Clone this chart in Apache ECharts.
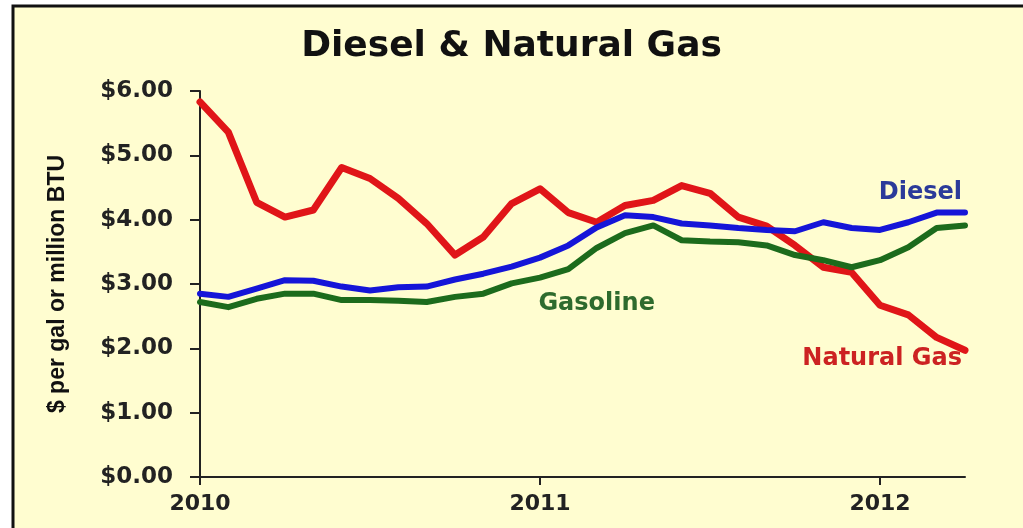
<!DOCTYPE html>
<html>
<head>
<meta charset="utf-8">
<script src="https://cdn.jsdelivr.net/npm/echarts@6/dist/echarts.min.js"></script>
<style>
  html, body { margin: 0; padding: 0; background: #fff; }
  #chart { width: 1023px; height: 528px; }
</style>
</head>
<body>
<div id="chart"></div>
<script>
// monthly prices, Jan 2010 .. Apr 2012
const months = [
  '2010-01', '2010-02', '2010-03', '2010-04', '2010-05', '2010-06', '2010-07', '2010-08', '2010-09', '2010-10', '2010-11', '2010-12',
  '2011-01', '2011-02', '2011-03', '2011-04', '2011-05', '2011-06', '2011-07', '2011-08', '2011-09', '2011-10', '2011-11', '2011-12',
  '2012-01', '2012-02', '2012-03', '2012-04'
]
const diesel = [2.85, 2.80, 2.93, 3.06, 3.05, 2.96, 2.90, 2.95, 2.96, 3.07, 3.16, 3.27,
  3.41, 3.60, 3.88, 4.07, 4.04, 3.94, 3.91, 3.87, 3.84, 3.82, 3.96, 3.87,
  3.84, 3.96, 4.11, 4.11]
const gasoline = [2.72, 2.64, 2.77, 2.85, 2.85, 2.75, 2.75, 2.74, 2.72, 2.80, 2.85, 3.01,
  3.10, 3.23, 3.56, 3.79, 3.91, 3.68, 3.66, 3.65, 3.60, 3.45, 3.37, 3.26,
  3.37, 3.57, 3.87, 3.91]
const natGas = [5.83, 5.36, 4.27, 4.04, 4.15, 4.81, 4.64, 4.33, 3.94, 3.45, 3.73, 4.25,
  4.48, 4.11, 3.96, 4.22, 4.30, 4.53, 4.41, 4.04, 3.90, 3.60, 3.26, 3.18,
  2.67, 2.52, 2.17, 1.97]
const startYear = 2010
const yTicks = [0, 1, 2, 3, 4, 5, 6]

// months since Jan 2010
function monthIndex(s) {
  const [y, m] = s.split('-').map(Number)
  return (y - startYear) * 12 + (m - 1)
}
const toPairs = vals => months.map((m, i) => [monthIndex(m), vals[i]])

const last = months.length - 1
const lblFont = 'DejaVu Sans'

function lineSeries(name, vals, color, width, label) {
  return {
    name,
    type: 'line',
    data: toPairs(vals),
    symbol: 'none',
    lineStyle: { color, width, cap: 'round', join: 'round' },
    markPoint: {
      symbol: 'circle',
      symbolSize: 0,
      data: [{
        coord: label.coord,
        label: {
          show: true,
          formatter: name,
          position: 'inside',
          offset: label.offset,
          align: label.align,
          verticalAlign: 'middle',
          color: label.color,
          fontFamily: lblFont,
          fontWeight: 'bold',
          fontSize: 24
        }
      }]
    }
  }
}

const chart = echarts.init(document.getElementById('chart'))
chart.setOption({
  backgroundColor: '#ffffff',
  animation: false,
  graphic: [{
    type: 'rect',
    z: -100,
    silent: true,
    shape: { x: 13, y: 6, width: 1040, height: 560 },
    style: { fill: '#FFFDD0', stroke: '#111', lineWidth: 3 }
  }],
  title: {
    text: 'Diesel & Natural Gas',
    left: 'center',
    top: 24,
    textStyle: { fontFamily: lblFont, fontWeight: 'bold', fontSize: 36, color: '#111' }
  },
  grid: { left: 200, right: 58, top: 91, bottom: 51 },
  xAxis: {
    type: 'value',
    min: 0,
    max: monthIndex(months[last]),
    interval: 12,
    axisLine: { lineStyle: { color: '#222', width: 2 } },
    axisTick: { show: true, length: 8, lineStyle: { color: '#222', width: 2 } },
    splitLine: { show: false },
    axisLabel: {
      margin: 16,
      color: '#222',
      fontFamily: lblFont,
      fontWeight: 'bold',
      fontSize: 22,
      showMaxLabel: false,
      formatter: v => String(startYear + v / 12)
    }
  },
  yAxis: {
    type: 'value',
    min: yTicks[0],
    max: yTicks[yTicks.length - 1],
    interval: 1,
    name: '$ per gal or million BTU',
    nameLocation: 'middle',
    nameRotate: 90,
    nameGap: 131,
    nameTextStyle: { fontFamily: 'Liberation Sans', fontWeight: 'bold', fontSize: 23, color: '#111' },
    axisLine: { show: true, lineStyle: { color: '#222', width: 2 } },
    axisTick: { show: true, length: 10, lineStyle: { color: '#222', width: 2 } },
    splitLine: { show: false },
    axisLabel: {
      margin: 27,
      color: '#222',
      fontFamily: lblFont,
      fontWeight: 'bold',
      fontSize: 23,
      formatter: v => '$' + v.toFixed(2)
    }
  },
  series: [
    lineSeries('Natural Gas', natGas, '#E01518', 7, {
      coord: [monthIndex(months[last]), natGas[last]], offset: [-3, 9], align: 'right', color: '#CC2222'
    }),
    lineSeries('Gasoline', gasoline, '#1C6B1C', 6, {
      coord: [14, 2.7], offset: [0, 0], align: 'center', color: '#2E6B2E'
    }),
    lineSeries('Diesel', diesel, '#1515D8', 6, {
      coord: [monthIndex(months[last]), diesel[last]], offset: [-3, -20], align: 'right', color: '#2B3A9A'
    })
  ]
})
</script>
</body>
</html>
